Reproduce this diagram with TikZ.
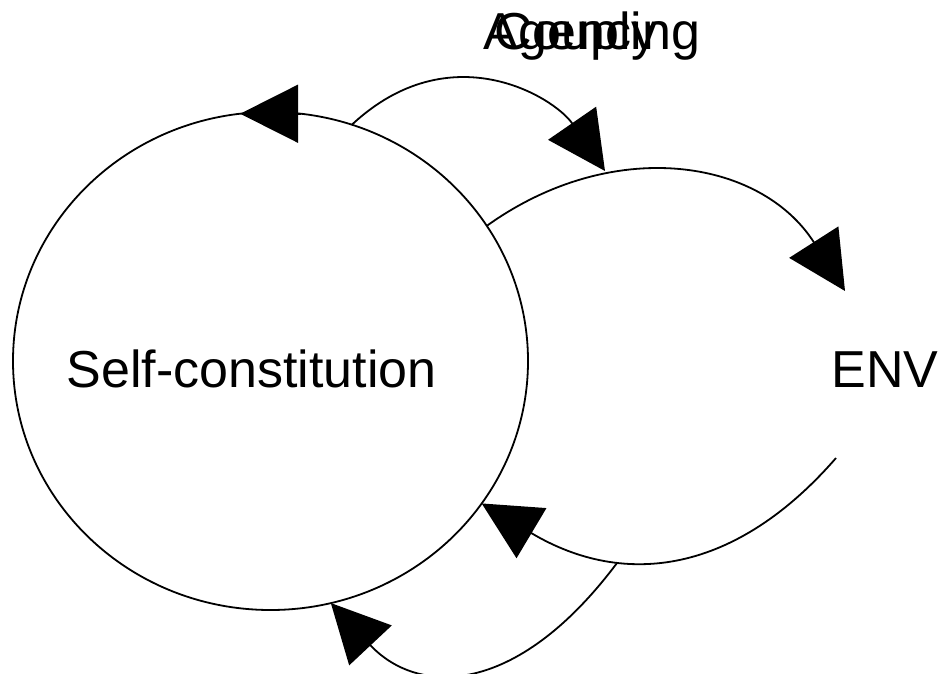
\documentclass[tikz,border=0pt]{standalone}
\usepackage{fontspec}
\setmainfont{Liberation Sans}
\usetikzlibrary{arrows.meta,shapes.geometric}

\tikzset{
  bigtip/.style={-{Triangle[length=58pt,width=58pt]}},
  bigtext/.style={font=\fontsize{52}{62}\selectfont, inner sep=0pt},
}

\begin{document}
\begin{tikzpicture}[x=1pt,y=1pt,line width=1.8pt]
  \useasboundingbox (0,0) rectangle (944,673);

  % the self circle
  \node[ellipse, draw, inner sep=0pt, outer sep=0pt,
        minimum width=515pt, minimum height=498pt] (self) at (270.5,312) {};
  \node[bigtext, anchor=base] (selflabel) at (251.5,286) {Self-constitution};
  \draw[bigtip] (self.83) -- (self.97);

  % environment side
  \node[bigtext, anchor=base] (env) at (885,286) {ENV};
  \coordinate (envtop) at (845,382);
  \coordinate (envbot) at (836,215);
  \coordinate (envhigh) at (605,502);
  \coordinate (envlow) at (617,110);
  \draw[bigtip] (self.32) .. controls (612,537) and (760,515) .. (envtop);
  \draw[bigtip] (envbot) .. controls (736,100) and (625,84) .. (self.-34);

  % agency / coupling loops
  \node[bigtext, anchor=base west] (agency) at (483,623) {Agency};
  \node[bigtext, anchor=base west] (coupling) at (494,623) {Coupling};
  \draw[bigtip] (self.71) .. controls (450,640) and (554,576) .. (envhigh);
  \draw[bigtip] (envlow) .. controls (515,-26) and (417,-22) .. (self.-76);
\end{tikzpicture}
\end{document}
